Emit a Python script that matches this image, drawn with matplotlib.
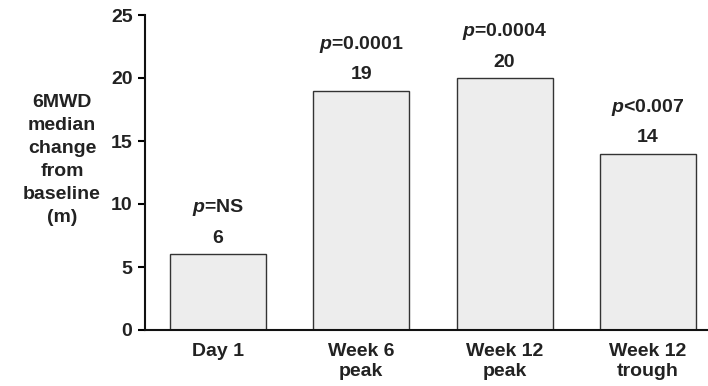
import matplotlib
matplotlib.use("Agg")
import matplotlib.pyplot as plt

categories = ["Day 1", "Week 6\npeak", "Week 12\npeak", "Week 12\ntrough"]
median_change = [6, 19, 20, 14]
p_prefix = ["=", "=", "=", "<"]
p_values = ["NS", "0.0001", "0.0004", "0.007"]
y_ticks = [0, 5, 10, 15, 20, 25]

TEXT = "#222222"
FS = 14
plt.rcParams["font.family"] = ["Liberation Sans", "DejaVu Sans"]
plt.rcParams["font.weight"] = "bold"
plt.rcParams["mathtext.fontset"] = "custom"
plt.rcParams["mathtext.it"] = "Liberation Sans:italic:bold"
plt.rcParams["mathtext.rm"] = "Liberation Sans:bold"

fig = plt.figure(figsize=(7.08, 3.86), dpi=100)
ax = fig.add_axes([145 / 708, 1 - 330 / 386, (708 - 145) / 708, (330 - 15) / 386])

x = range(len(categories))
ax.bar(x, median_change, width=0.67, color="#ededed", edgecolor="#333333", linewidth=1.0)

for xi, v, pre, pv in zip(x, median_change, p_prefix, p_values):
    ax.annotate(f"{v}", (xi, v), xytext=(0, 11.5), textcoords="offset points",
                ha="center", va="center", fontsize=FS, fontweight="bold", color=TEXT)
    ax.annotate(f"$p${pre}{pv}", (xi, v), xytext=(0, 33.5),
                textcoords="offset points", ha="center", va="center",
                fontsize=FS, fontweight="bold", color=TEXT)

ax.set_xlim(-0.51, 3.42)
ax.set_ylim(0, 25)
ax.set_yticks(y_ticks)
ax.set_xticks(list(x))
ax.set_xticklabels(categories, fontsize=FS, fontweight="bold", color=TEXT, linespacing=1.3)
ax.tick_params(axis="y", labelsize=FS, labelcolor=TEXT, length=5, width=1.5, direction="out", pad=4)
ax.tick_params(axis="x", length=0, pad=9)
for lbl in ax.get_yticklabels():
    lbl.set_fontweight("bold")

for side in ("top", "right"):
    ax.spines[side].set_visible(False)
for side in ("left", "bottom"):
    ax.spines[side].set_linewidth(1.5)
    ax.spines[side].set_color("#111111")

fig.text(62 / 708, 1 - 160 / 386, "6MWD\nmedian\nchange\nfrom\nbaseline\n(m)",
         ha="center", va="center", fontsize=FS, fontweight="bold", color=TEXT,
         linespacing=1.47)

fig.savefig("out.png", dpi=100)
